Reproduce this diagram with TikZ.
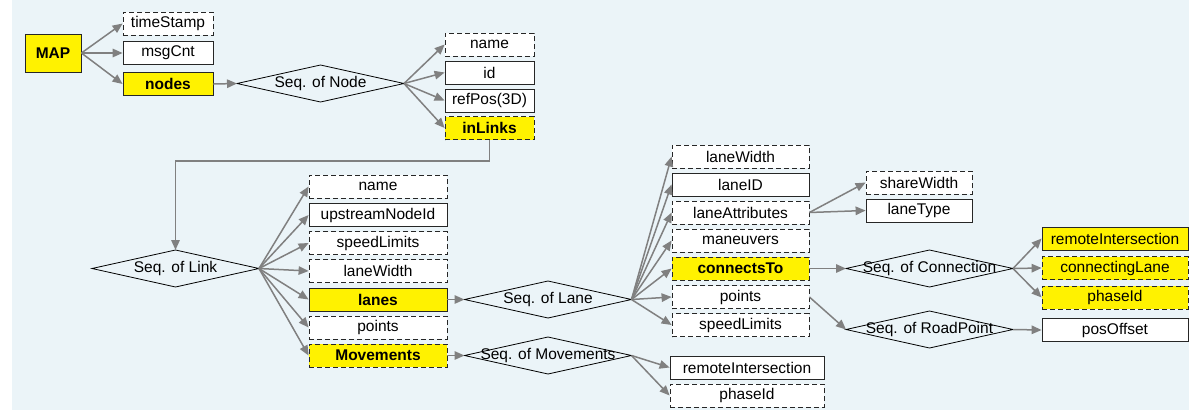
\documentclass[tikz,border=0pt]{standalone}
\usepackage{fontspec}
\setmainfont{Liberation Sans}
\usepackage{tikz}
\usetikzlibrary{arrows.meta}
\usetikzlibrary{shapes.geometric}

\definecolor{bgblue}{HTML}{EBF4F8}
\definecolor{linkgray}{HTML}{808080}
\newcommand{\diagfont}{\fontsize{15.5}{18}\selectfont}
\newcommand{\seqof}[1]{\makebox[0pt]{Seq. of #1}}

\tikzset{
  box/.style={draw=black!85, fill=white, minimum height=23pt, inner sep=0pt, line width=0.8pt},
  opt/.style={box, dash pattern=on 5pt off 3pt},
  key/.style={fill=yellow},
  bold/.style={font=\diagfont\bfseries},
  seq/.style={diamond, draw, minimum width=167pt, minimum height=37pt, inner sep=0pt, outer sep=0pt, line width=0.8pt},
  link/.style={draw=linkgray, line width=1.5pt, -{Triangle[length=10pt,width=8.5pt]}}
}

\begin{document}
\begin{tikzpicture}[x=1pt, y=-1pt, font=\diagfont]
\useasboundingbox (0,0) rectangle (1189,410);
\fill[bgblue] (12,0) rectangle (1189,410);

\path (53,53) node[box, key, bold, minimum width=56pt, minimum height=38pt] (map) {MAP};
\path (168,23.5) node[opt, minimum width=90pt] (tstamp) {timeStamp};
\path (168,53) node[box, minimum width=90pt] (msgcnt) {msgCnt};
\path (168,84) node[box, key, bold, minimum width=90pt] (nodes) {nodes};
\path (320.5,83.5) node[seq] (seqnode) {\seqof{Node}};
\path (489.5,44.5) node[opt, minimum width=89pt] (nname) {name};
\path (489.5,72.5) node[box, minimum width=89pt] (nid) {id};
\path (489.5,100.5) node[box, minimum width=89pt] (refpos) {refPos(3D)};
\path (489.5,128) node[opt, key, bold, minimum width=89pt] (inlinks) {inLinks};

\path (175.5,268.5) node[seq] (seqlink) {\seqof{Link}};
\path (378,186.5) node[opt, minimum width=138pt] (lname) {name};
\path (378,215) node[box, minimum width=138pt] (upnode) {upstreamNodeId};
\path (378,243) node[opt, minimum width=138pt] (lspeed) {speedLimits};
\path (378,271) node[opt, minimum width=138pt] (lwidth) {laneWidth};
\path (378,299.5) node[box, key, bold, minimum width=138pt] (lanes) {lanes};
\path (378,327.5) node[opt, minimum width=138pt] (lpoints) {points};
\path (378,355.5) node[opt, key, bold, minimum width=138pt] (moves) {Movements};

\path (548,299.5) node[seq] (seqlane) {\seqof{Lane}};
\path (548,355.5) node[seq] (seqmove) {\seqof{Movements}};
\path (740.5,156.5) node[opt, minimum width=137pt] (lnwidth) {laneWidth};
\path (740.5,184.5) node[box, minimum width=137pt] (laneid) {laneID};
\path (740.5,212.5) node[opt, minimum width=137pt] (lattr) {laneAttributes};
\path (740.5,240.5) node[opt, minimum width=137pt] (maneuv) {maneuvers};
\path (740.5,268.5) node[opt, key, bold, minimum width=137pt] (connto) {connectsTo};
\path (740.5,297) node[opt, minimum width=137pt] (pts) {points};
\path (740.5,325) node[opt, minimum width=137pt] (spd) {speedLimits};
\path (747,367.5) node[box, minimum width=154pt] (mremote) {remoteIntersection};
\path (747,395.5) node[opt, minimum width=154pt] (mphase) {phaseId};

\path (919,182.5) node[opt, minimum width=106pt] (sharew) {shareWidth};
\path (919,210.5) node[box, minimum width=106pt] (lanetype) {laneType};
\path (929.5,268.5) node[seq] (seqconn) {\seqof{Connection}};
\path (929.5,329.5) node[seq] (seqroad) {\seqof{RoadPoint}};
\path (1115,238.5) node[box, key, minimum width=146pt] (cremote) {remoteIntersection};
\path (1115,268) node[opt, key, minimum width=146pt] (clane) {connectingLane};
\path (1115,297.5) node[opt, key, minimum width=146pt] (cphase) {phaseId};
\path (1115,330) node[box, minimum width=146pt] (posoff) {posOffset};

\draw[link] (map.east) to (tstamp.west);
\draw[link] (map.east) to (msgcnt.west);
\draw[link] (map.east) to (nodes.west);
\draw[link] (nodes.east) to (seqnode.west);
\draw[link] (seqnode.east) to (nname.west);
\draw[link] (seqnode.east) to (nid.west);
\draw[link] (seqnode.east) to (refpos.west);
\draw[link] (seqnode.east) to (inlinks.west);
\draw[link] (inlinks.south) -- ++(0,21) -| (seqlink.north);

\draw[link] (seqlink.east) to (lname.west);
\draw[link] (seqlink.east) to (upnode.west);
\draw[link] (seqlink.east) to (lspeed.west);
\draw[link] (seqlink.east) to (lwidth.west);
\draw[link] (seqlink.east) to (lanes.west);
\draw[link] (seqlink.east) to (lpoints.west);
\draw[link] (seqlink.east) to (moves.west);
\draw[link] (lanes.east) to (seqlane.west);
\draw[link] (moves.east) to (seqmove.west);

\draw[link] (seqlane.east) to (lnwidth.west);
\draw[link] (seqlane.east) to (laneid.west);
\draw[link] (seqlane.east) to (lattr.west);
\draw[link] (seqlane.east) to (maneuv.west);
\draw[link] (seqlane.east) to (connto.west);
\draw[link] (seqlane.east) to (pts.west);
\draw[link] (seqlane.east) to (spd.west);
\draw[link] (seqmove.east) to (mremote.west);
\draw[link] (seqmove.east) to (mphase.west);

\draw[link] (lattr.east) to (sharew.west);
\draw[link] (lattr.east) to (lanetype.west);
\draw[link] (connto.east) to (seqconn.west);
\draw[link] (pts.east) to (seqroad.west);
\draw[link] (seqconn.east) to (cremote.west);
\draw[link] (seqconn.east) to (clane.west);
\draw[link] (seqconn.east) to (cphase.west);
\draw[link] (seqroad.east) to (posoff.west);

\end{tikzpicture}
\end{document}
